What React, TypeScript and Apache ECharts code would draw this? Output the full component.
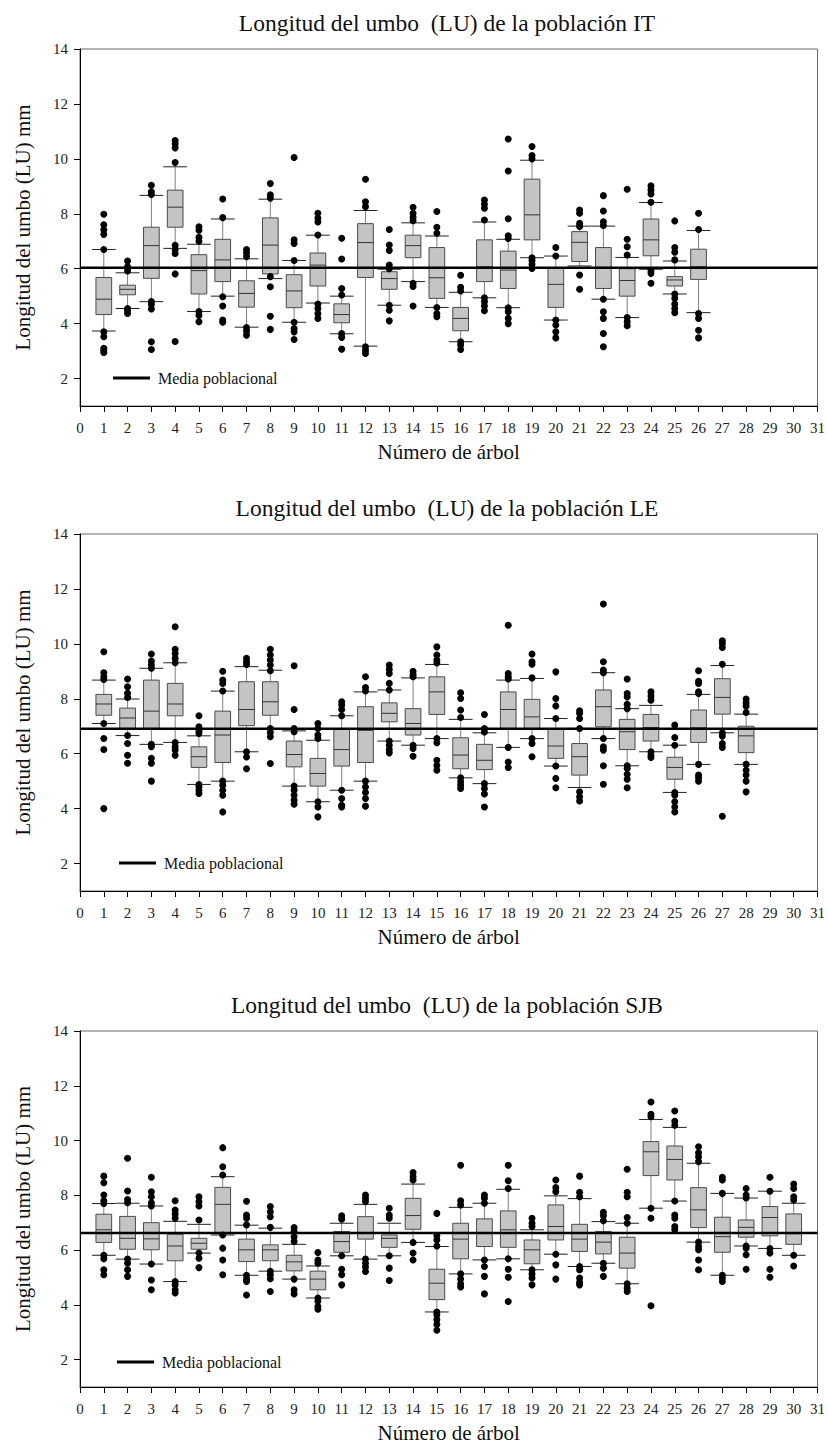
import React, { useEffect, useRef } from "react";
import * as echarts from "echarts";

// ---------- DATA ----------
// Box rows per tree: [whisker low, Q1, median, Q3, whisker high]
const itBoxes: number[][] = [
  [3.73, 4.33, 4.89, 5.68, 6.70],
  [4.55, 5.05, 5.25, 5.40, 5.85],
  [4.80, 5.65, 6.84, 7.51, 8.67],
  [6.74, 7.51, 8.24, 8.86, 9.71],
  [4.44, 5.08, 5.93, 6.51, 6.89],
  [5.00, 5.53, 6.32, 7.07, 7.81],
  [3.87, 4.60, 5.10, 5.56, 6.36],
  [5.64, 5.81, 6.86, 7.85, 8.53],
  [4.05, 4.58, 5.19, 5.78, 6.30],
  [4.75, 5.37, 6.13, 6.57, 7.22],
  [3.63, 4.03, 4.33, 4.72, 5.00],
  [3.18, 5.68, 6.95, 7.64, 8.12],
  [4.67, 5.25, 5.64, 5.89, 5.98],
  [5.53, 6.40, 6.84, 7.22, 7.67],
  [4.59, 4.92, 5.67, 6.77, 7.19],
  [3.34, 3.74, 4.19, 4.59, 5.14],
  [4.94, 5.53, 6.07, 7.05, 7.70],
  [4.58, 5.28, 5.95, 6.64, 7.07],
  [6.40, 7.05, 7.96, 9.26, 9.95],
  [4.13, 4.59, 5.43, 6.01, 6.46],
  [6.10, 6.26, 6.96, 7.35, 7.55],
  [4.89, 5.28, 6.05, 6.77, 7.55],
  [4.22, 5.00, 5.57, 6.00, 6.41],
  [5.98, 6.47, 7.05, 7.81, 8.41],
  [5.08, 5.37, 5.59, 5.71, 6.28],
  [4.40, 5.61, 6.07, 6.71, 7.39],
];
const itOutliers: number[][] = [
  [7.98, 7.6, 7.42, 7.25, 6.7, 3.7, 3.52, 3.1, 3.02, 2.95],
  [6.28, 6.07, 5.92, 4.55, 4.48, 4.37],
  [9.04, 8.8, 8.7, 4.8, 4.7, 4.53, 3.34, 3.06],
  [10.67, 10.55, 10.4, 9.87, 6.85, 6.7, 6.55, 5.81, 3.35],
  [7.53, 7.4, 7.14, 7.0, 4.44, 4.3, 4.07],
  [8.54, 7.86, 4.98, 4.64, 4.13, 4.05],
  [6.7, 6.58, 6.44, 3.86, 3.73, 3.58],
  [9.1, 8.69, 8.57, 5.71, 5.34, 4.27, 3.79],
  [10.05, 7.05, 6.92, 6.3, 4.05, 3.82, 3.7, 3.42],
  [8.02, 7.84, 7.7, 7.23, 4.71, 4.55, 4.37, 4.19],
  [7.11, 6.35, 5.28, 5.04, 3.64, 3.5, 3.07],
  [9.26, 8.44, 8.26, 3.16, 3.03, 2.91],
  [7.43, 6.86, 6.66, 6.13, 6.0, 4.67, 4.49, 4.1],
  [8.24, 8.02, 7.87, 7.75, 5.47, 5.35, 4.64],
  [8.08, 7.51, 7.29, 4.59, 4.37, 4.25],
  [5.76, 5.32, 5.19, 3.34, 3.22, 3.06],
  [8.5, 8.35, 8.2, 7.77, 4.94, 4.8, 4.64, 4.47],
  [10.72, 9.56, 7.82, 7.2, 7.1, 4.58, 4.43, 4.19, 4.0],
  [10.45, 10.12, 10.0, 6.4, 6.3, 6.16, 6.01],
  [6.77, 6.46, 4.13, 3.95, 3.7, 3.48],
  [8.14, 8.02, 7.65, 7.54, 5.77, 5.25],
  [8.66, 8.1, 7.71, 7.57, 4.89, 4.43, 4.19, 3.64, 3.16],
  [8.89, 7.07, 6.8, 6.5, 4.22, 4.07, 3.92],
  [9.02, 8.87, 8.72, 8.42, 5.93, 5.83, 5.47],
  [7.74, 6.77, 6.6, 6.32, 5.08, 4.92, 4.71, 4.55, 4.4],
  [8.02, 7.43, 4.37, 4.19, 3.76, 3.48],
];
const itMean = 6.03;

const leBoxes: number[][] = [
  [7.10, 7.40, 7.81, 8.16, 8.68],
  [6.66, 6.92, 7.30, 7.66, 7.99],
  [6.34, 6.92, 7.55, 8.68, 9.11],
  [6.41, 7.38, 7.81, 8.56, 9.31],
  [4.88, 5.50, 5.89, 6.25, 6.65],
  [5.00, 5.68, 6.68, 7.55, 8.28],
  [6.07, 7.02, 7.61, 8.62, 9.17],
  [6.92, 7.40, 7.89, 8.62, 9.04],
  [4.82, 5.52, 5.97, 6.46, 6.83],
  [4.25, 4.82, 5.28, 5.83, 6.49],
  [4.67, 5.55, 6.15, 6.90, 7.38],
  [5.00, 5.68, 6.85, 7.71, 8.25],
  [6.46, 7.16, 7.47, 7.85, 8.32],
  [6.31, 6.68, 7.10, 7.64, 8.76],
  [6.55, 7.43, 8.25, 8.80, 9.25],
  [5.12, 5.45, 5.95, 6.58, 7.25],
  [4.91, 5.42, 5.76, 6.34, 6.76],
  [6.23, 6.92, 7.61, 8.25, 8.68],
  [6.55, 6.92, 7.34, 7.98, 8.74],
  [5.55, 5.83, 6.28, 6.90, 7.28],
  [4.77, 5.22, 5.89, 6.37, 6.92],
  [6.55, 6.98, 7.71, 8.32, 8.95],
  [5.56, 6.15, 6.80, 7.25, 7.64],
  [6.07, 6.46, 6.95, 7.43, 7.76],
  [4.59, 5.07, 5.50, 5.87, 6.31],
  [5.61, 6.41, 6.94, 7.59, 8.16],
  [6.76, 7.44, 8.05, 8.73, 9.21],
  [5.61, 6.04, 6.65, 7.00, 7.44],
];
const leOutliers: number[][] = [
  [9.71, 8.95, 8.8, 8.7, 7.1, 6.55, 6.15, 4.0],
  [8.72, 8.44, 8.2, 8.05, 6.66, 6.37, 5.94, 5.65],
  [9.63, 9.37, 9.23, 9.11, 6.34, 6.25, 5.83, 5.65, 5.0],
  [10.62, 9.8, 9.65, 9.47, 9.31, 6.41, 6.25, 6.13, 5.94],
  [7.38, 6.98, 6.83, 6.74, 4.88, 4.8, 4.67, 4.55],
  [9.0, 8.68, 8.56, 8.28, 5.0, 4.85, 4.67, 4.49, 3.88],
  [9.47, 9.35, 9.25, 6.07, 5.88, 5.45],
  [9.8, 9.59, 9.41, 9.23, 9.02, 6.92, 6.77, 6.62, 5.64],
  [9.2, 7.61, 6.92, 6.8, 4.82, 4.67, 4.49, 4.31, 4.16],
  [7.1, 6.92, 6.68, 6.55, 4.25, 4.06, 3.7],
  [7.89, 7.77, 7.61, 7.38, 4.67, 4.37, 4.12, 4.06],
  [8.8, 8.41, 8.28, 5.0, 4.79, 4.59, 4.37, 4.09],
  [9.23, 9.07, 8.92, 8.56, 8.32, 6.46, 6.31, 6.15, 6.03],
  [9.0, 8.88, 8.8, 6.31, 6.19, 5.91],
  [9.89, 9.59, 9.41, 9.3, 6.55, 6.4, 5.76, 5.57, 5.4],
  [8.22, 8.01, 7.59, 7.32, 5.12, 4.98, 4.85, 4.73],
  [7.43, 6.92, 6.79, 4.91, 4.73, 4.53, 4.06],
  [10.68, 8.92, 8.8, 8.72, 6.23, 5.7, 5.5],
  [9.63, 9.35, 9.26, 8.76, 6.55, 6.37, 5.89],
  [8.98, 8.01, 7.74, 7.28, 5.55, 5.1, 4.76],
  [7.56, 7.47, 7.28, 6.92, 4.61, 4.43, 4.28],
  [11.45, 9.35, 9.05, 8.95, 6.55, 6.25, 6.13, 5.56, 4.89],
  [8.72, 8.19, 8.07, 7.8, 7.64, 5.56, 5.46, 5.25, 5.07, 4.76],
  [8.25, 8.1, 7.95, 6.07, 5.95, 5.86],
  [7.04, 6.59, 6.31, 4.59, 4.49, 4.25, 4.06, 3.88],
  [9.02, 8.64, 8.56, 8.25, 8.19, 5.61, 5.22, 5.12, 5.0],
  [10.11, 10.01, 9.87, 9.26, 6.76, 6.64, 6.37, 6.23, 3.72],
  [7.99, 7.85, 7.73, 7.5, 5.61, 5.4, 5.22, 5.0, 4.61],
];
const leMean = 6.91;

const sjbBoxes: number[][] = [
  [5.81, 6.28, 6.74, 7.31, 7.70],
  [5.67, 6.03, 6.43, 7.23, 7.71],
  [5.49, 6.01, 6.41, 7.00, 7.61],
  [4.85, 5.61, 6.15, 6.58, 7.05],
  [5.89, 6.03, 6.25, 6.43, 6.94],
  [6.55, 6.62, 7.67, 8.29, 8.68],
  [5.08, 5.58, 6.01, 6.40, 6.91],
  [5.23, 5.61, 6.01, 6.19, 6.80],
  [4.94, 5.24, 5.57, 5.81, 6.21],
  [4.25, 4.55, 4.94, 5.23, 5.42],
  [5.79, 5.92, 6.31, 6.68, 6.98],
  [5.67, 6.40, 6.62, 7.22, 7.67],
  [5.79, 6.10, 6.43, 6.55, 6.98],
  [6.28, 6.76, 7.26, 7.89, 8.41],
  [3.74, 4.19, 4.79, 5.30, 6.13],
  [5.13, 5.68, 6.40, 6.98, 7.56],
  [5.64, 6.13, 6.62, 7.14, 7.71],
  [5.68, 6.10, 6.74, 7.43, 8.22],
  [5.28, 5.50, 6.01, 6.37, 6.74],
  [5.85, 6.37, 6.86, 7.65, 7.98],
  [5.40, 5.95, 6.40, 6.94, 7.88],
  [5.52, 5.86, 6.29, 6.68, 7.04],
  [4.77, 5.34, 5.89, 6.47, 6.98],
  [7.53, 8.72, 9.59, 9.96, 10.77],
  [7.79, 8.56, 9.31, 9.80, 10.48],
  [6.29, 6.82, 7.47, 8.28, 9.17],
  [5.08, 5.92, 6.49, 7.20, 8.07],
  [6.15, 6.47, 6.83, 7.10, 7.90],
  [6.06, 6.52, 7.19, 7.59, 8.15],
  [5.81, 6.21, 6.60, 7.32, 7.71],
];
const sjbOutliers: number[][] = [
  [8.7, 8.46, 8.01, 7.8, 7.7, 5.81, 5.68, 5.28, 5.1],
  [9.35, 8.16, 7.85, 7.73, 5.67, 5.52, 5.28, 5.04],
  [8.66, 8.13, 7.95, 7.73, 7.61, 5.49, 4.91, 4.55],
  [7.8, 7.46, 7.32, 7.16, 4.85, 4.73, 4.55, 4.43],
  [7.95, 7.77, 7.61, 7.1, 5.89, 5.7, 5.36],
  [9.74, 9.04, 8.74, 6.55, 6.07, 5.64, 5.1],
  [7.78, 7.28, 7.16, 6.92, 5.08, 4.94, 4.85, 4.36],
  [7.59, 7.4, 7.22, 6.83, 5.23, 5.1, 4.95, 4.49],
  [6.82, 6.68, 6.49, 6.31, 4.94, 4.55, 4.4],
  [5.91, 5.64, 5.52, 4.25, 4.13, 3.94, 3.84],
  [7.25, 7.13, 5.79, 5.3, 5.1, 4.73],
  [8.01, 7.89, 7.77, 5.67, 5.52, 5.38, 5.22],
  [7.53, 7.28, 7.16, 5.79, 5.34, 4.89],
  [8.83, 8.68, 8.56, 6.28, 5.89, 5.64],
  [7.34, 6.52, 6.37, 6.15, 3.74, 3.64, 3.46, 3.28, 3.07],
  [9.1, 7.8, 7.65, 5.13, 4.94, 4.77, 4.65],
  [8.01, 7.89, 7.71, 5.64, 5.4, 5.04, 4.4],
  [9.1, 8.53, 8.25, 5.68, 5.3, 5.01, 4.12],
  [7.16, 6.98, 6.86, 5.28, 5.13, 4.98, 4.73],
  [8.56, 8.28, 8.13, 5.85, 5.46, 4.94],
  [8.7, 8.11, 7.95, 5.4, 5.28, 4.98, 4.82, 4.73],
  [7.38, 7.25, 7.07, 5.52, 5.34, 5.04],
  [8.95, 8.11, 7.95, 7.19, 6.98, 4.77, 4.61, 4.49],
  [11.41, 10.96, 10.87, 7.53, 7.16, 3.97],
  [11.08, 10.7, 10.56, 7.79, 7.28, 7.16, 6.86, 6.74],
  [9.77, 9.55, 9.41, 9.23, 6.29, 6.13, 6.01, 5.64, 5.28],
  [8.66, 8.56, 8.07, 5.08, 4.98, 4.85],
  [8.25, 8.01, 7.9, 6.15, 6.07, 5.83, 5.3],
  [8.66, 8.15, 6.06, 5.89, 5.3, 5.01],
  [8.41, 8.25, 7.95, 7.83, 5.81, 5.42],
];
const sjbMean = 6.62;

const titles = [
  "Longitud del umbo  (LU) de la población IT",
  "Longitud del umbo  (LU) de la población LE",
  "Longitud del umbo  (LU) de la población SJB",
];
const yTickValues = [2, 4, 6, 8, 10, 12, 14];
const xAxisName = "Número de árbol";
const yAxisName = "Longitud del umbo (LU) mm";
const legendName = "Media poblacional";

// ---------- LAYOUT ----------
const FONT = "Liberation Serif, Times New Roman, serif";
const panelTops = [49, 534, 1031];
const panelHeights = [357, 357, 356];
const legendTops = [370, 855, 1354];
const legendLefts = [113, 119, 117];
const GRID_LEFT = 80;
const GRID_WIDTH = 738;

function renderBox(params: any, api: any) {
  const x = api.value(0);
  const lo = api.coord([x, api.value(1)]);
  const q1 = api.coord([x, api.value(2)]);
  const md = api.coord([x, api.value(3)]);
  const q3 = api.coord([x, api.value(4)]);
  const hi = api.coord([x, api.value(5)]);
  const unit = api.size([1, 0])[0];
  const bw = unit * 0.66;
  const cw = unit * 1.0;
  const cx = lo[0];
  return {
    type: "group",
    children: [
      { type: "line", shape: { x1: cx, y1: q3[1], x2: cx, y2: hi[1] }, style: { stroke: "#808080", lineWidth: 1 } },
      { type: "line", shape: { x1: cx, y1: q1[1], x2: cx, y2: lo[1] }, style: { stroke: "#808080", lineWidth: 1 } },
      { type: "line", shape: { x1: cx - cw / 2, y1: hi[1], x2: cx + cw / 2, y2: hi[1] }, style: { stroke: "#222", lineWidth: 1 } },
      { type: "line", shape: { x1: cx - cw / 2, y1: lo[1], x2: cx + cw / 2, y2: lo[1] }, style: { stroke: "#222", lineWidth: 1 } },
      {
        type: "rect",
        shape: { x: cx - bw / 2, y: q3[1], width: bw, height: q1[1] - q3[1] },
        style: { fill: "#c4c4c4", stroke: "#4a4a4a", lineWidth: 1 },
      },
      { type: "line", shape: { x1: cx - bw / 2, y1: md[1], x2: cx + bw / 2, y2: md[1] }, style: { stroke: "#333", lineWidth: 1 } },
    ],
  };
}

export default function App() {
  const ref = useRef<HTMLDivElement>(null);
  useEffect(() => {
    if (!ref.current) return;
    const chart = echarts.init(ref.current, undefined, { renderer: "svg" });
    const panels = [
      { boxes: itBoxes, outliers: itOutliers, mean: itMean },
      { boxes: leBoxes, outliers: leOutliers, mean: leMean },
      { boxes: sjbBoxes, outliers: sjbOutliers, mean: sjbMean },
    ];
    const grid: any[] = [];
    const xAxis: any[] = [];
    const yAxis: any[] = [];
    const series: any[] = [];
    const title: any[] = [];
    const legend: any[] = [];
    panels.forEach((p, i) => {
      grid.push({
        left: GRID_LEFT,
        width: GRID_WIDTH,
        top: panelTops[i],
        height: panelHeights[i],
        show: true,
        borderColor: "#6a6a6a",
        borderWidth: 1,
        backgroundColor: "transparent",
      });
      xAxis.push({
        type: "value",
        gridIndex: i,
        min: 0,
        max: 31,
        interval: 1,
        name: xAxisName,
        nameLocation: "middle",
        nameGap: 35,
        nameTextStyle: { fontFamily: FONT, fontSize: 21, color: "#111" },
        axisLine: { show: true, onZero: false, lineStyle: { color: "#000", width: 1 } },
        axisTick: { show: true, inside: false, length: 6, lineStyle: { color: "#000" } },
        axisLabel: { fontFamily: FONT, fontSize: 15, color: "#222", margin: 14 },
        splitLine: { show: false },
      });
      yAxis.push({
        type: "value",
        gridIndex: i,
        min: 1,
        max: 14,
        name: yAxisName,
        nameLocation: "middle",
        nameGap: 47,
        nameTextStyle: { fontFamily: FONT, fontSize: 21, color: "#111" },
        axisLine: { show: true, onZero: false, lineStyle: { color: "#000", width: 1 } },
        axisTick: { show: true, inside: false, length: 6, customValues: yTickValues, lineStyle: { color: "#000" } },
        axisLabel: { fontFamily: FONT, fontSize: 15, color: "#222", margin: 12, customValues: yTickValues },
        splitLine: { show: false },
      });
      title.push({
        text: titles[i],
        left: 442,
        textAlign: "center",
        top: panelTops[i] - 43,
        textStyle: { fontFamily: FONT, fontSize: 23.5, fontWeight: "normal", color: "#111" },
      });
      legend.push({
        data: [{ name: legendName, icon: "rect" }],
        left: legendLefts[i],
        top: legendTops[i],
        orient: "horizontal",
        padding: 0,
        itemWidth: 37,
        itemHeight: 3,
        itemGap: 0,
        selectedMode: false,
        textStyle: { fontFamily: FONT, fontSize: 16, color: "#111", padding: [0, 0, 0, 3] },
      });
      series.push({
        type: "custom",
        xAxisIndex: i,
        yAxisIndex: i,
        renderItem: renderBox,
        encode: { x: 0, y: [1, 2, 3, 4, 5] },
        data: p.boxes.map((b, k) => [k + 1, ...b]),
        z: 2,
      });
      series.push({
        type: "line",
        name: legendName,
        xAxisIndex: i,
        yAxisIndex: i,
        data: [
          [0, p.mean],
          [31, p.mean],
        ],
        symbol: "none",
        color: "#000",
        lineStyle: { color: "#000", width: 2.5 },
        z: 3,
      });
      const pts: number[][] = [];
      p.outliers.forEach((arr, k) => arr.forEach((v) => pts.push([k + 1, v])));
      series.push({
        type: "scatter",
        xAxisIndex: i,
        yAxisIndex: i,
        data: pts,
        symbol: "circle",
        symbolSize: 7,
        itemStyle: { color: "#000", opacity: 1 },
        z: 4,
      });
    });
    chart.setOption({
      animation: false,
      backgroundColor: "#fff",
      title,
      legend,
      grid,
      xAxis,
      yAxis,
      series,
    });
    return () => chart.dispose();
  }, []);
  return (
    <div
      ref={ref}
      style={{ position: "absolute", left: 0, top: 0, width: 828, height: 1449, background: "#fff" }}
    />
  );
}
